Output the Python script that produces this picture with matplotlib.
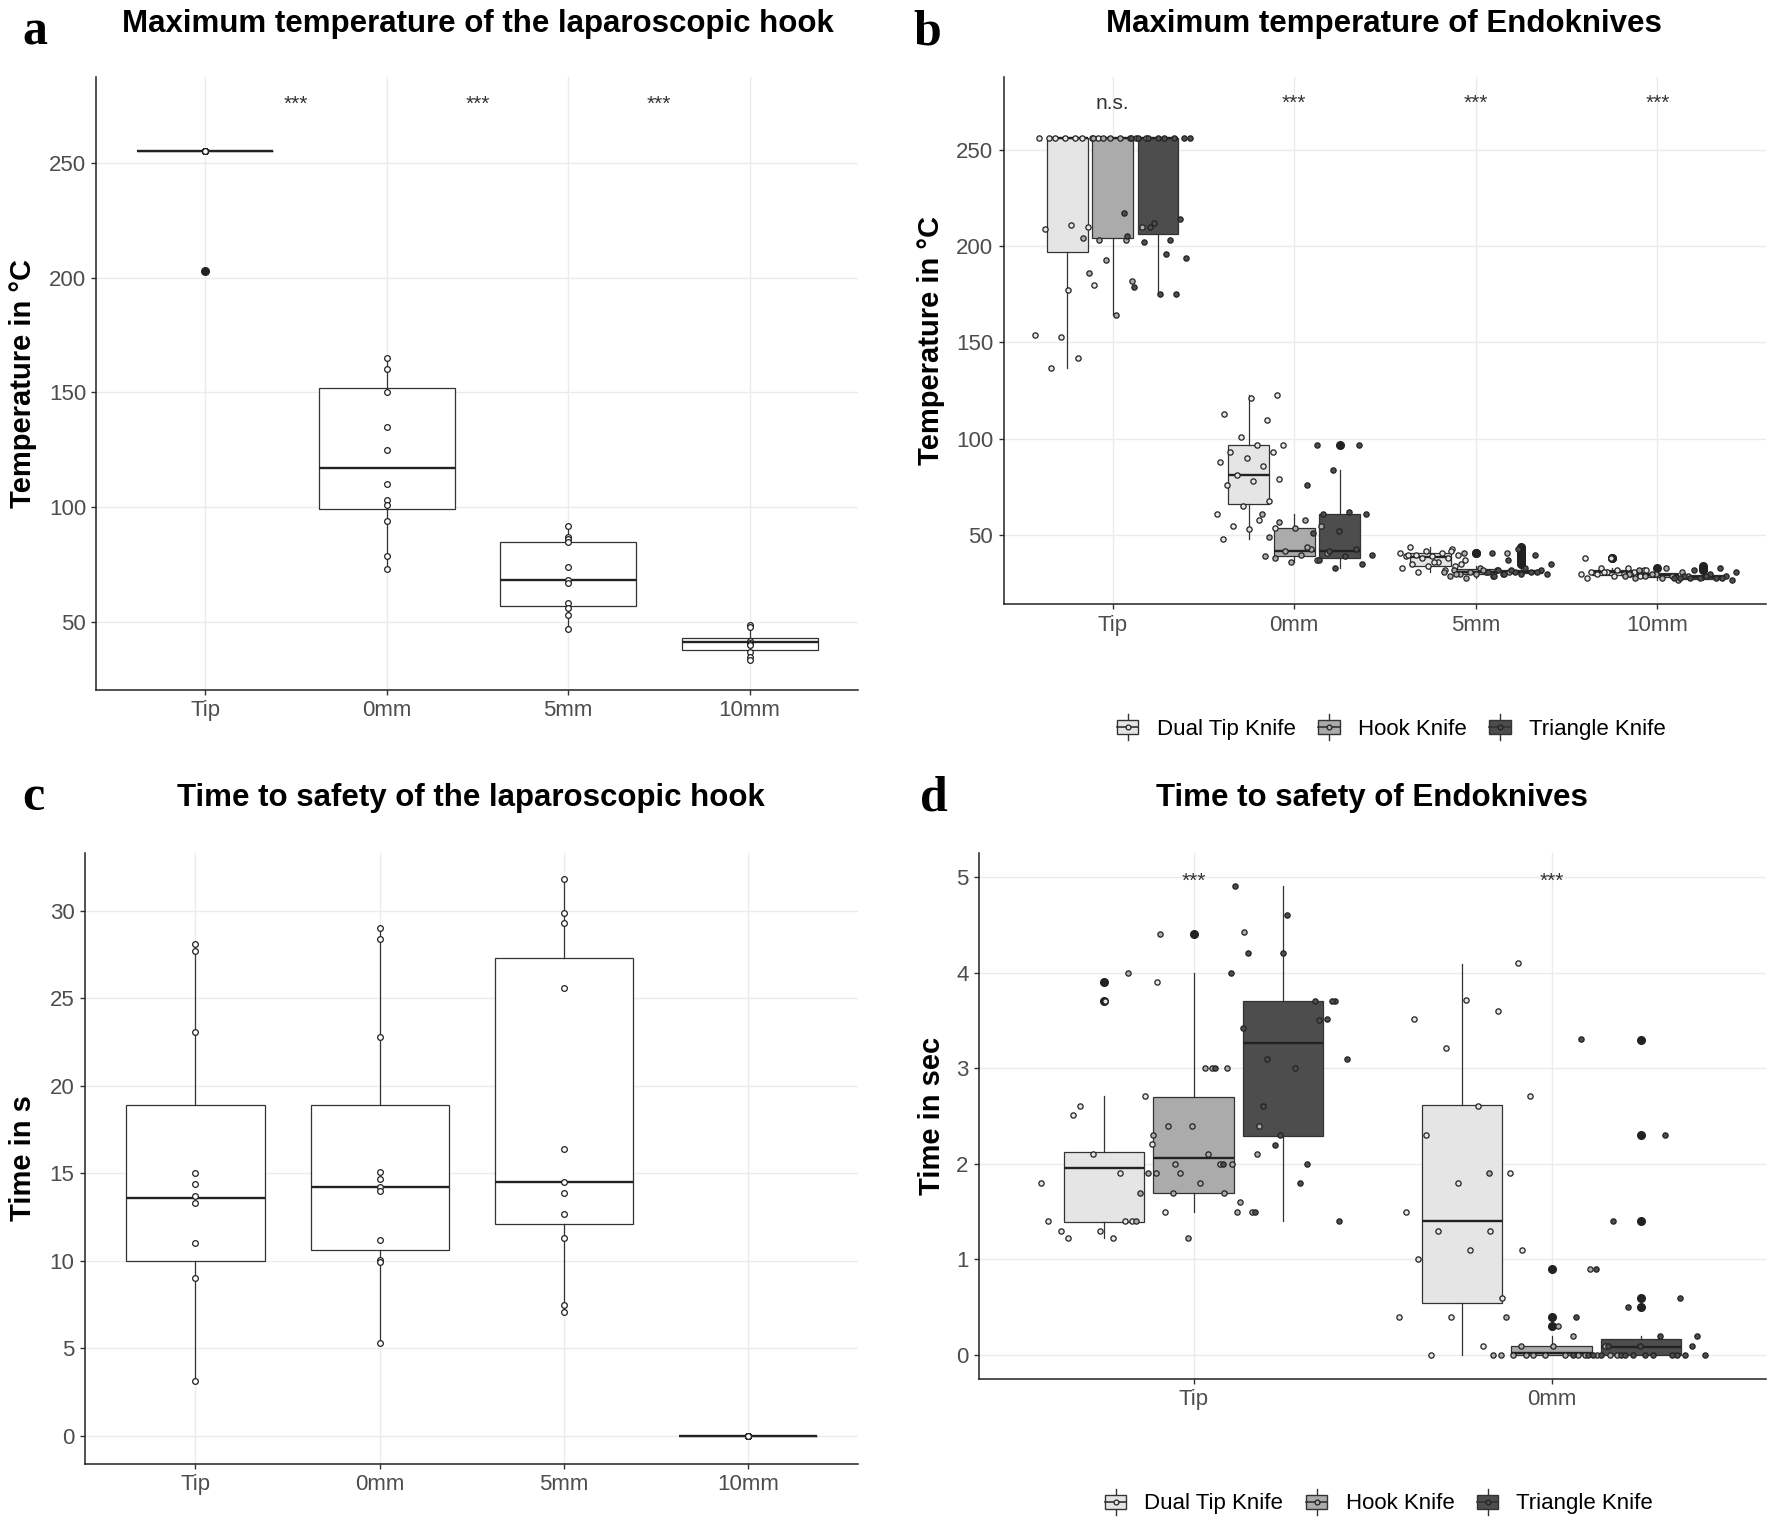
import matplotlib
matplotlib.use('Agg')
import matplotlib.pyplot as plt
import numpy as np
from matplotlib.legend_handler import HandlerBase
from matplotlib.patches import Rectangle, Patch
from matplotlib.lines import Line2D

plt.rcParams['font.family'] = ['Liberation Sans', 'DejaVu Sans']

# ---------------- data ----------------
positions = ['Tip', '0mm', '5mm', '10mm']
knives = ['Dual Tip Knife', 'Hook Knife', 'Triangle Knife']
knife_colors = ['#E5E5E5', '#ABABAB', '#4D4D4D']

# a: maximum temperature, laparoscopic hook
a_pts = [[255, 255, 255, 255, 255, 255, 255, 255, 255, 255, 255],
         [165, 160, 150, 135, 125, 110, 103, 101, 94, 79, 73],
         [92, 87, 86, 85, 74, 68.5, 67, 58.5, 56, 53, 47],
         [49, 48, 42, 41, 40.5, 40, 37, 35, 33.5]]
a_q1 = [255, 99.4, 57.2, 38.1]
a_med = [255, 117.2, 68.5, 41.3]
a_q3 = [255, 151.9, 85.1, 43.0]
a_lo = [255, 72.6, 47, 33.4]
a_hi = [255, 165, 92, 49.1]
a_out = [[203], [], [], []]
a_sig = ['***', '***', '***']

# c: time to safety, laparoscopic hook
c_pts = [[28.1, 27.7, 23.1, 15.0, 14.4, 13.7, 13.3, 11.0, 9.0, 3.1],
         [29.0, 28.4, 22.8, 15.1, 14.7, 14.2, 14.0, 11.2, 10.05, 9.95, 5.3],
         [31.8, 29.9, 29.3, 25.6, 16.4, 14.5, 13.9, 12.7, 11.3, 7.5, 7.1],
         [0, 0, 0, 0, 0, 0, 0, 0, 0, 0]]
c_q1 = [10.0, 10.6, 12.1, 0]
c_med = [13.6, 14.2, 14.5, 0]
c_q3 = [18.9, 18.9, 27.3, 0]
c_lo = [3.1, 5.3, 7.1, 0]
c_hi = [28.1, 29.0, 31.8, 0]

# b: maximum temperature, endoknives  (rows: knives, cols: positions)
b_pts = [
    [[256, 256, 256, 256, 256, 256, 256, 256, 211, 209, 210, 153, 154, 142, 137, 180, 177],
     [123, 121, 113, 110, 101, 97, 97, 93, 93, 90, 88, 86, 81, 79, 78, 76, 68, 65, 61, 58, 55, 54, 53, 48],
     [44, 43, 42, 41, 41, 40, 40, 39, 39, 38, 38, 37, 36, 35, 34, 34, 33, 32, 31, 35, 36, 40, 42],
     [38, 38, 33, 33, 32, 32, 31, 31, 31, 30, 30, 30, 29, 29, 28, 30, 31, 32]],
    [[256, 256, 256, 256, 256, 256, 256, 204, 203, 203, 210, 164, 186, 182, 193],
     [61, 58, 57, 55, 54, 49, 43, 42, 41, 40, 38, 37, 36, 39, 44],
     [41, 41, 33, 32, 32, 31, 31, 31, 30, 30, 30, 29, 29, 28, 31, 32, 30],
     [33, 32, 31, 30, 30, 29, 29, 29, 28, 28, 27, 30, 29]],
    [[256, 256, 256, 256, 256, 256, 256, 256, 214, 212, 205, 203, 202, 194, 175, 179, 175, 210, 217, 196],
     [97, 97, 84, 76, 62, 61, 61, 52, 51, 43, 42, 40, 39, 37, 35, 33],
     [43, 41, 40, 37, 35, 33, 32, 32, 31, 31, 31, 30, 30, 30, 29, 31, 32],
     [33, 32, 31, 30, 29, 29, 28, 28, 28, 28, 27, 29, 28, 28]],
]
b_q1 = [[197, 66, 34, 29.5], [204, 39, 30, 28.5], [206, 38, 30.5, 27.5]]
b_med = [[256, 81, 38.6, 31], [256, 42, 31, 29.5], [256, 42, 31, 28.5]]
b_q3 = [[256, 97, 40.8, 32], [256, 54, 32.5, 30.5], [256, 61, 32, 29.5]]
b_lo = [[137, 48, 31, 28], [164, 36, 28, 27], [175, 33, 29, 27]]
b_hi = [[256, 123, 44, 33], [256, 61, 34, 32], [256, 84, 33, 31]]
b_out = [[[], [], [], [38, 38]],
         [[], [], [41, 41], [33]],
         [[], [97], [44, 43, 42, 41, 40, 39, 38, 37, 36, 35], [34, 33, 32.5, 32]]]
b_sig = ['n.s.', '***', '***', '***']

# d: time to safety, endoknives
d_positions = ['Tip', '0mm']
d_pts = [
    [[1.9, 1.22, 2.21, 1.3, 1.4, 1.4, 2.6, 1.5, 1.22, 1.3, 2.71, 2.1, 1.8, 1.4, 2.51, 3.9, 3.7],
     [4.1, 3.71, 3.51, 3.6, 3.21, 2.71, 2.6, 2.3, 1.9, 1.8, 1.5, 1.3, 1.3, 1.1, 1.1, 1.0, 0.6, 0.4, 0.4, 0.1, 0.0]],
    [[3.0, 2.0, 2.4, 2.1, 1.9, 1.6, 1.22, 1.4, 2.0, 2.4, 1.5, 1.8, 1.9, 2.0, 1.9, 4.0, 3.0, 4.4, 4.42,
      2.4, 1.7, 1.7, 1.7, 2.1, 3.0, 2.3, 1.5],
     [1.9, 0.2, 0.1, 0.1, 0.1, 0, 0, 0, 0, 0, 0, 0, 0, 0, 0, 0, 0, 0.3, 0.4, 0.9]],
    [[3.7, 4.2, 4.0, 3.7, 2.6, 3.1, 3.0, 3.42, 3.51, 2.2, 2.0, 2.0, 1.5, 1.4, 4.6, 4.91, 3.5, 3.1, 3.0,
      1.8, 4.2, 3.7, 2.3],
     [0.9, 0.6, 0.5, 0.4, 0.2, 0.1, 0.1, 0.1, 0, 0, 0, 0, 0, 0, 0, 0, 3.31, 2.3, 1.4, 0.2, 0, 0, 0, 0, 0]],
]
d_q1 = [[1.39, 0.55], [1.70, 0.0], [2.29, 0.0]]
d_med = [[1.96, 1.40], [2.06, 0.02], [3.26, 0.08]]
d_q3 = [[2.125, 2.62], [2.70, 0.10], [3.70, 0.17]]
d_lo = [[1.22, 0.0], [1.5, 0.0], [1.4, 0.0]]
d_hi = [[2.71, 4.09], [4.0, 0.2], [4.91, 0.2]]
d_out = [[[3.9, 3.7], []], [[4.4], [0.9, 0.4, 0.3]], [[], [3.3, 2.3, 1.4, 0.6, 0.5]]]
d_sig = ['***', '***']

# ---------------- helpers ----------------
LINE = '#333333'


def jitter(n, width, phase):
    u = (np.arange(1, n + 1) * 0.618034 + phase) % 1.0
    return (2 * u - 1) * width


def box_stats(q1, med, q3, lo, hi, out):
    return [dict(q1=q1[i], med=med[i], q3=q3[i], whislo=lo[i], whishi=hi[i], fliers=out[i])
            for i in range(len(q1))]


def draw_boxes(ax, stats, pos, width, color):
    ax.bxp(stats, positions=pos, widths=width, patch_artist=True, showcaps=False,
           boxprops=dict(facecolor=color, edgecolor=LINE, linewidth=0.9),
           medianprops=dict(color='#222222', linewidth=1.7),
           whiskerprops=dict(color=LINE, linewidth=0.9),
           flierprops=dict(marker='o', markerfacecolor='#222222', markeredgecolor='#222222',
                           markersize=5.5, linestyle='none'),
           manage_ticks=False, zorder=2)


def style_axes(ax, cats, ylim, yticks):
    ax.set_xlim(0.4, len(cats) + 0.6)
    ax.set_ylim(*ylim)
    ax.set_xticks(np.arange(1, len(cats) + 1))
    ax.set_xticklabels(cats)
    ax.set_yticks(yticks)
    for s in ['top', 'right']:
        ax.spines[s].set_visible(False)
    for s in ['left', 'bottom']:
        ax.spines[s].set_linewidth(1.1)
        ax.spines[s].set_color('#222222')
    ax.grid(True, color='#EBEBEB', linewidth=1.0)
    ax.set_axisbelow(True)
    ax.tick_params(length=3.5, width=1, color=LINE, labelsize=16, labelcolor='#4D4D4D', pad=4)


class BoxKey(HandlerBase):
    def create_artists(self, legend, orig_handle, xdescent, ydescent, width, height, fontsize, trans):
        fc = orig_handle.get_facecolor()
        cx = width / 2 - xdescent
        cy = height / 2 - ydescent
        bw, bh = width * 0.95, height * 0.85
        whisk = Line2D([cx, cx], [cy - height * 0.8, cy + height * 0.8], color=LINE, lw=1, transform=trans)
        box = Rectangle((cx - bw / 2, cy - bh / 2), bw, bh, facecolor=fc, edgecolor=LINE, lw=1, transform=trans)
        med = Line2D([cx - bw / 2, cx + bw / 2], [cy, cy], color=LINE, lw=1.2, transform=trans)
        dot = Line2D([cx], [cy], marker='o', ms=3.5, mfc=fc, mec='#222222', mew=0.9, transform=trans)
        return [whisk, box, med, dot]


def knife_legend(fig, x, y):
    handles = [Patch(facecolor=c) for c in knife_colors]
    fig.legend(handles, knives, loc='center', bbox_to_anchor=(x, y), ncol=3, frameon=False,
               handler_map={Patch: BoxKey()}, fontsize=16, handlelength=1.0, handleheight=0.75,
               handletextpad=0.8, columnspacing=1.0)


# ---------------- figure ----------------
fig = plt.figure(figsize=(17.7, 15.26), dpi=100)
ax_a = fig.add_axes([0.0545, 0.548, 0.4305, 0.4017])
ax_b = fig.add_axes([0.567, 0.604, 0.431, 0.3457])
ax_c = fig.add_axes([0.048, 0.0408, 0.437, 0.4002])
ax_d = fig.add_axes([0.553, 0.0963, 0.445, 0.3447])

# panel a
x4 = np.arange(1, 5)
draw_boxes(ax_a, box_stats(a_q1, a_med, a_q3, a_lo, a_hi, a_out), x4, 0.75, 'white')
for i, vals in enumerate(a_pts):
    ax_a.plot(np.full(len(vals), x4[i]), vals, 'o', ms=4.1, mfc='white', mec='#222222', mew=0.9, zorder=3)
for i, s in enumerate(a_sig):
    ax_a.text(x4[i] + 0.5, 273, s, ha='center', va='baseline', fontsize=15, color=LINE)
style_axes(ax_a, positions, (20.6, 287.4), [50, 100, 150, 200, 250])
ax_a.set_ylabel('Temperature in °C', fontsize=21, fontweight='bold')
ax_a.yaxis.set_label_coords(-0.078, 0.5)

# panel c
draw_boxes(ax_c, box_stats(c_q1, c_med, c_q3, c_lo, c_hi, [[], [], [], []]), x4, 0.75, 'white')
for i, vals in enumerate(c_pts):
    ax_c.plot(np.full(len(vals), x4[i]), vals, 'o', ms=4.1, mfc='white', mec='#222222', mew=0.9, zorder=3)
style_axes(ax_c, positions, (-1.6, 33.3), [0, 5, 10, 15, 20, 25, 30])
ax_c.set_ylabel('Time in s', fontsize=21, fontweight='bold')
ax_c.yaxis.set_label_coords(-0.062, 0.5)

# panels b and d (grouped)
offsets = [-0.25, 0.0, 0.25]
for ax, pts, q1, med, q3, lo, hi, out, cats in [
        (ax_b, b_pts, b_q1, b_med, b_q3, b_lo, b_hi, b_out, positions),
        (ax_d, d_pts, d_q1, d_med, d_q3, d_lo, d_hi, d_out, d_positions)]:
    xc = np.arange(1, len(cats) + 1)
    for k in range(3):
        draw_boxes(ax, box_stats(q1[k], med[k], q3[k], lo[k], hi[k], out[k]), xc + offsets[k], 0.225,
                   knife_colors[k])
    for k in range(3):
        for i, vals in enumerate(pts[k]):
            xs = xc[i] + offsets[k] + jitter(len(vals), 0.19, 0.13 * k + 0.29 * i)
            ax.plot(xs, vals, 'o', ms=3.8, mfc=knife_colors[k], mec='#222222', mew=0.9, zorder=3)

for i, s in enumerate(b_sig):
    ax_b.text(i + 1, 271, s, ha='center', va='baseline', fontsize=15, color=LINE)
style_axes(ax_b, positions, (14.2, 287.8), [50, 100, 150, 200, 250])
ax_b.set_ylabel('Temperature in °C', fontsize=21, fontweight='bold')
ax_b.yaxis.set_label_coords(-0.0768, 0.5)

for i, s in enumerate(d_sig):
    ax_d.text(i + 1, 4.9, s, ha='center', va='baseline', fontsize=15, color=LINE)
style_axes(ax_d, d_positions, (-0.25, 5.25), [0, 1, 2, 3, 4, 5])
ax_d.set_ylabel('Time in sec', fontsize=21, fontweight='bold')
ax_d.yaxis.set_label_coords(-0.0416, 0.5)

knife_legend(fig, 0.786, 0.522)
knife_legend(fig, 0.779, 0.0145)

# titles and panel letters
fig.text(0.270, 0.984, 'Maximum temperature of the laparoscopic hook', ha='center', va='center',
         fontsize=22.5, fontweight='bold')
fig.text(0.782, 0.984, 'Maximum temperature of Endoknives', ha='center', va='center',
         fontsize=22.5, fontweight='bold')
fig.text(0.266, 0.477, 'Time to safety of the laparoscopic hook', ha='center', va='center',
         fontsize=22.5, fontweight='bold')
fig.text(0.775, 0.477, 'Time to safety of Endoknives', ha='center', va='center',
         fontsize=22.5, fontweight='bold')
for x, y, s in [(0.0128, 0.971, 'a'), (0.516, 0.971, 'b'), (0.0128, 0.4695, 'c'), (0.52, 0.469, 'd')]:
    fig.text(x, y, s, ha='left', va='baseline', fontsize=36, fontweight='bold',
             family=['Liberation Serif', 'DejaVu Serif'])

fig.savefig('out.png', dpi=100)
